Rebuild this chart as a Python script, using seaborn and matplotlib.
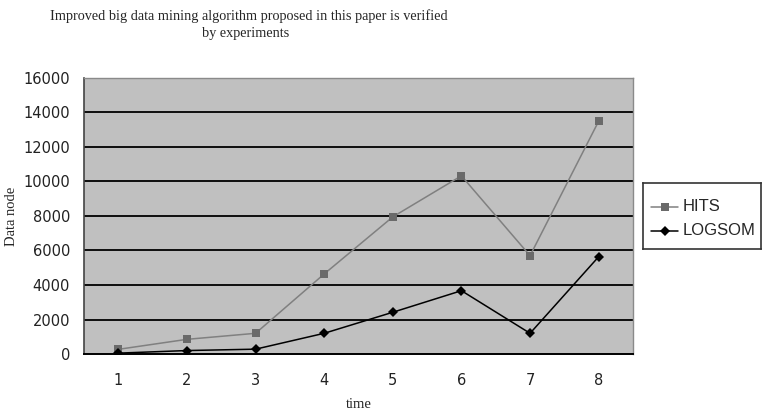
import matplotlib
matplotlib.use("Agg")
import matplotlib.pyplot as plt
import numpy as np
import pandas as pd
import seaborn as sns

# Experiment data: data nodes processed at each time step
time_steps = [1, 2, 3, 4, 5, 6, 7, 8]
hits_values = [270, 850, 1200, 4640, 7950, 10330, 5700, 13500]
logsom_values = [50, 200, 280, 1200, 2420, 3670, 1200, 5640]
series_names = ["HITS", "LOGSOM"]
y_ticks = [0, 2000, 4000, 6000, 8000, 10000, 12000, 14000, 16000]

df = pd.DataFrame({
    "time": time_steps * 2,
    "value": hits_values + logsom_values,
    "series": [series_names[0]] * len(time_steps) + [series_names[1]] * len(time_steps),
})

sns.set_style("white")
plt.rcParams["font.family"] = ["DejaVu Sans"]

fig = plt.figure(figsize=(7.62, 4.12), dpi=100)
ax = fig.add_axes([84 / 762, 1 - 354 / 412, (633 - 84) / 762, (354 - 78) / 412])
ax.set_facecolor("#c0c0c0")

sns.lineplot(
    data=df, x="time", y="value", hue="series", style="series",
    palette={"HITS": "#808080", "LOGSOM": "#000000"},
    markers={"HITS": "s", "LOGSOM": "D"},
    dashes=False, linewidth=1.1, markersize=5.5,
    markeredgewidth=0, ax=ax, legend=False, zorder=3,
)
# darker square markers on the grey series
for line in ax.get_lines():
    if line.get_color() == "#808080":
        line.set_markerfacecolor("#6a6a6a")

ax.set_xlim(0.5, 8.5)
ax.set_ylim(0, 16000)
ax.set_yticks(y_ticks)
ax.set_yticklabels([str(v) for v in y_ticks], fontsize=10.5, color="#222222")
ax.set_xticks(time_steps)
ax.set_xticklabels([str(t) for t in time_steps], fontsize=10.5, color="#222222")
ax.set_xticks(np.arange(1.5, 8.5, 1.0), minor=True)
ax.tick_params(axis="x", which="major", length=0, pad=14)
ax.tick_params(axis="x", which="minor", length=5, width=1, color="black", direction="out")
ax.tick_params(axis="y", which="major", length=4, width=1, color="#333333", direction="out", pad=6)

ax.grid(False)
for v in y_ticks[1:-1]:
    ax.axhline(v, color="black", linewidth=1.3, zorder=1)

for side in ["top", "right"]:
    ax.spines[side].set_color("#8a8a8a")
    ax.spines[side].set_linewidth(1.0)
ax.spines["left"].set_color("#444444")
ax.spines["left"].set_linewidth(1.2)
ax.spines["bottom"].set_color("black")
ax.spines["bottom"].set_linewidth(1.4)

serif = ["Liberation Serif", "DejaVu Serif"]
ax.set_xlabel("time", fontsize=10.5, family=serif, labelpad=7)
ax.set_ylabel("Data node", fontsize=10.5, family=serif, labelpad=4)

fig.text(249 / 762, 1 - 16 / 412,
         "Improved big data mining algorithm proposed in this paper is verified",
         ha="center", va="center", fontsize=10.3, family=serif)
fig.text(246 / 762, 1 - 34 / 412, "by experiments",
         ha="center", va="center", fontsize=10.3, family=serif)

# legend box to the right of the plot area
lax = fig.add_axes([643 / 762, 1 - 249 / 412, (761 - 643) / 762, (249 - 183) / 412])
lax.set_xlim(0, 118)
lax.set_ylim(66, 0)
lax.set_xticks([])
lax.set_yticks([])
for s in lax.spines.values():
    s.set_color("#333333")
    s.set_linewidth(1.2)
lax.plot([8, 35], [24, 24], color="#808080", linewidth=1.1)
lax.plot([21.5], [24], marker="s", markersize=5.5, color="#6a6a6a", markeredgewidth=0)
lax.plot([8, 35], [48, 48], color="black", linewidth=1.1)
lax.plot([21.5], [48], marker="D", markersize=5, color="black", markeredgewidth=0)
lax.text(40, 24, series_names[0], va="center", ha="left", fontsize=12, family=["Liberation Sans"])
lax.text(40, 48, series_names[1], va="center", ha="left", fontsize=12, family=["Liberation Sans"])

fig.savefig("out.png", dpi=100, facecolor="white")
